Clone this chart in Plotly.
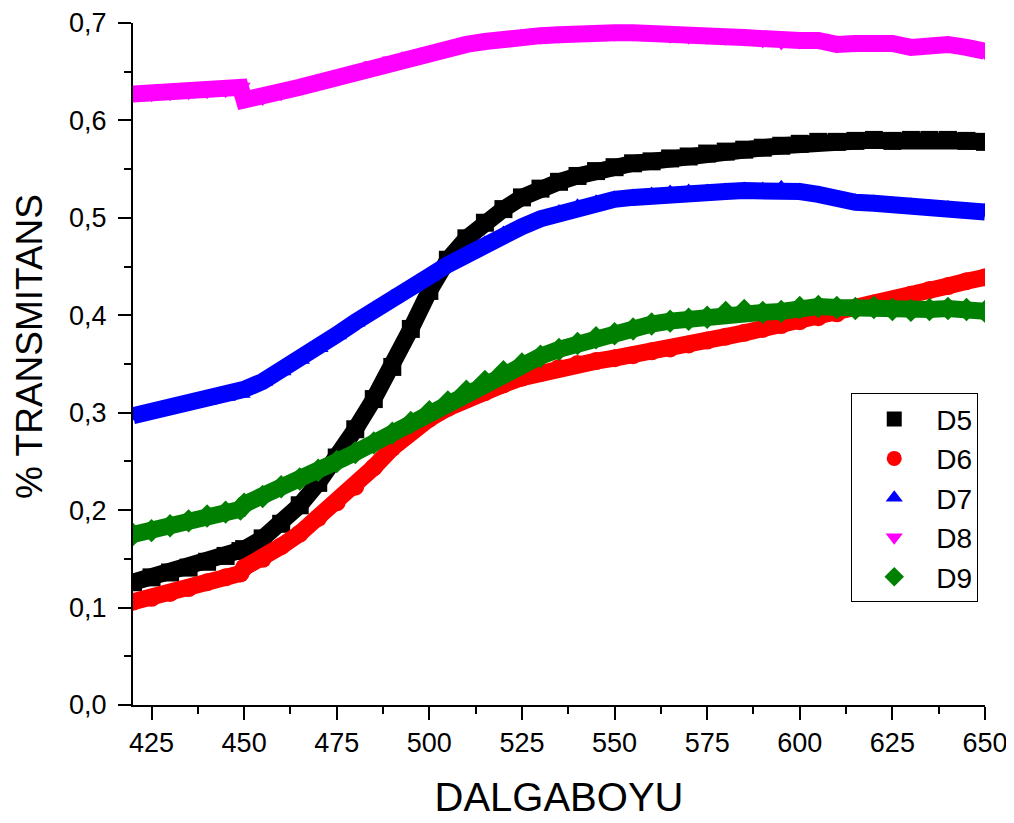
import plotly.graph_objects as go

wavelength = [420, 425, 430, 435, 440, 445, 449, 450, 455, 460, 465, 470, 475, 480, 485, 490,
              495, 500, 505, 510, 515, 520, 525, 530, 535, 540, 545, 550, 555, 560, 565, 570,
              575, 580, 585, 590, 595, 600, 605, 610, 615, 620, 625, 630, 635, 640, 645, 650]

d5 = [0.126, 0.131, 0.136, 0.141, 0.147, 0.153, 0.158, 0.160, 0.171, 0.186, 0.205, 0.228,
      0.254, 0.283, 0.314, 0.347, 0.386, 0.425, 0.457, 0.479, 0.495, 0.509, 0.521, 0.530,
      0.537, 0.543, 0.548, 0.552, 0.556, 0.558, 0.561, 0.563, 0.566, 0.568, 0.570, 0.572,
      0.574, 0.576, 0.578, 0.578, 0.579, 0.580, 0.579, 0.580, 0.580, 0.580, 0.579, 0.578]

d6 = [0.106, 0.110, 0.115, 0.120, 0.126, 0.131, 0.135, 0.141, 0.150, 0.163, 0.176, 0.192,
      0.208, 0.224, 0.244, 0.264, 0.280, 0.294, 0.305, 0.314, 0.321, 0.329, 0.336, 0.341,
      0.346, 0.350, 0.353, 0.356, 0.359, 0.363, 0.366, 0.370, 0.374, 0.378, 0.382, 0.386,
      0.390, 0.394, 0.398, 0.402, 0.407, 0.412, 0.416, 0.421, 0.426, 0.430, 0.435, 0.439]

d7 = [0.297, 0.301, 0.305, 0.309, 0.313, 0.317, 0.320, 0.324, 0.332, 0.343, 0.355, 0.367,
      0.380, 0.393, 0.406, 0.418, 0.429, 0.440, 0.452, 0.463, 0.473, 0.483, 0.491, 0.499,
      0.505, 0.511, 0.515, 0.519, 0.521, 0.523, 0.525, 0.526, 0.526, 0.527, 0.528, 0.528,
      0.530, 0.527, 0.524, 0.519, 0.516, 0.515, 0.513, 0.512, 0.510, 0.509, 0.507, 0.506]

d8 = [0.627, 0.628, 0.629, 0.630, 0.631, 0.632, 0.634, 0.621, 0.624, 0.629, 0.634, 0.639,
      0.644, 0.650, 0.656, 0.661, 0.666, 0.670, 0.674, 0.678, 0.681, 0.684, 0.686, 0.687,
      0.688, 0.690, 0.691, 0.690, 0.690, 0.690, 0.688, 0.687, 0.687, 0.686, 0.685, 0.683,
      0.681, 0.682, 0.682, 0.678, 0.679, 0.681, 0.679, 0.675, 0.677, 0.678, 0.675, 0.671]

d9 = [0.175, 0.179, 0.184, 0.189, 0.194, 0.198, 0.201, 0.206, 0.214, 0.224, 0.232, 0.241,
      0.250, 0.259, 0.269, 0.279, 0.290, 0.301, 0.311, 0.322, 0.332, 0.342, 0.350, 0.358,
      0.365, 0.371, 0.377, 0.381, 0.386, 0.391, 0.394, 0.396, 0.398, 0.403, 0.405, 0.403,
      0.404, 0.408, 0.409, 0.408, 0.407, 0.408, 0.406, 0.405, 0.406, 0.407, 0.406, 0.404]

names = ["D5", "D6", "D7", "D8", "D9"]
series = [d5, d6, d7, d8, d9]
colors = ["#000000", "#ff0000", "#0000ff", "#ff00ff", "#008000"]
symbols = ["square", "circle", "triangle-up", "triangle-down", "diamond"]

for s in series:
    assert len(s) == len(wavelength)

FONT = "Arial, Liberation Sans, sans-serif"

fig = go.Figure()
for name, s, c, sym in zip(names, series, colors, symbols):
    fig.add_trace(go.Scatter(
        x=wavelength, y=s, mode="lines+markers", name=name, showlegend=False,
        line=dict(color=c, width=17),
        marker=dict(symbol=sym, size=18, color=c, line=dict(width=0)),
    ))
for name, c, sym in zip(names, colors, symbols):
    fig.add_trace(go.Scatter(
        x=[None], y=[None], mode="markers", name=name, legendgroup=name,
        marker=dict(symbol=sym, size=15, color=c, line=dict(width=0)),
    ))

axis_common = dict(
    showline=True, linecolor="black", linewidth=2,
    ticks="outside", ticklen=13, tickwidth=2, tickcolor="black",
    showgrid=False, zeroline=False, mirror=False, automargin=False,
    ticklabeloverflow="allow",
    tickfont=dict(family=FONT, size=27, color="black"),
)

fig.update_layout(
    width=1006, height=815,
    paper_bgcolor="white", plot_bgcolor="white",
    margin=dict(l=125, r=29, t=15, b=118),
    separators=", ",
    font=dict(family=FONT, color="black"),
    xaxis=dict(
        range=[420, 650], tick0=425, dtick=25,
        minor=dict(ticks="outside", ticklen=7, tickwidth=2, tickcolor="black", dtick=12.5, tick0=425),
        title=dict(text="DALGABOYU", font=dict(family=FONT, size=40, color="black"), standoff=26),
        **axis_common,
    ),
    yaxis=dict(
        range=[0, 0.7], dtick=0.1, tickformat=".1f",
        minor=dict(ticks="outside", ticklen=7, tickwidth=2, tickcolor="black", dtick=0.05),
        ticklabelstandoff=6,
        **axis_common,
    ),
    annotations=[dict(
        text="% TRANSMITANS", textangle=-90, showarrow=False,
        xref="paper", yref="paper", x=0, y=0.525, xanchor="center", yanchor="middle",
        xshift=-103, font=dict(family=FONT, size=37, color="black"),
    )],
    legend=dict(
        x=0.843, y=0.457, xanchor="left", yanchor="top",
        bgcolor="white", bordercolor="black", borderwidth=1,
        font=dict(family=FONT, size=28, color="black"),
        tracegroupgap=0, itemwidth=74,
    ),
)

fig.write_html("out.html")
